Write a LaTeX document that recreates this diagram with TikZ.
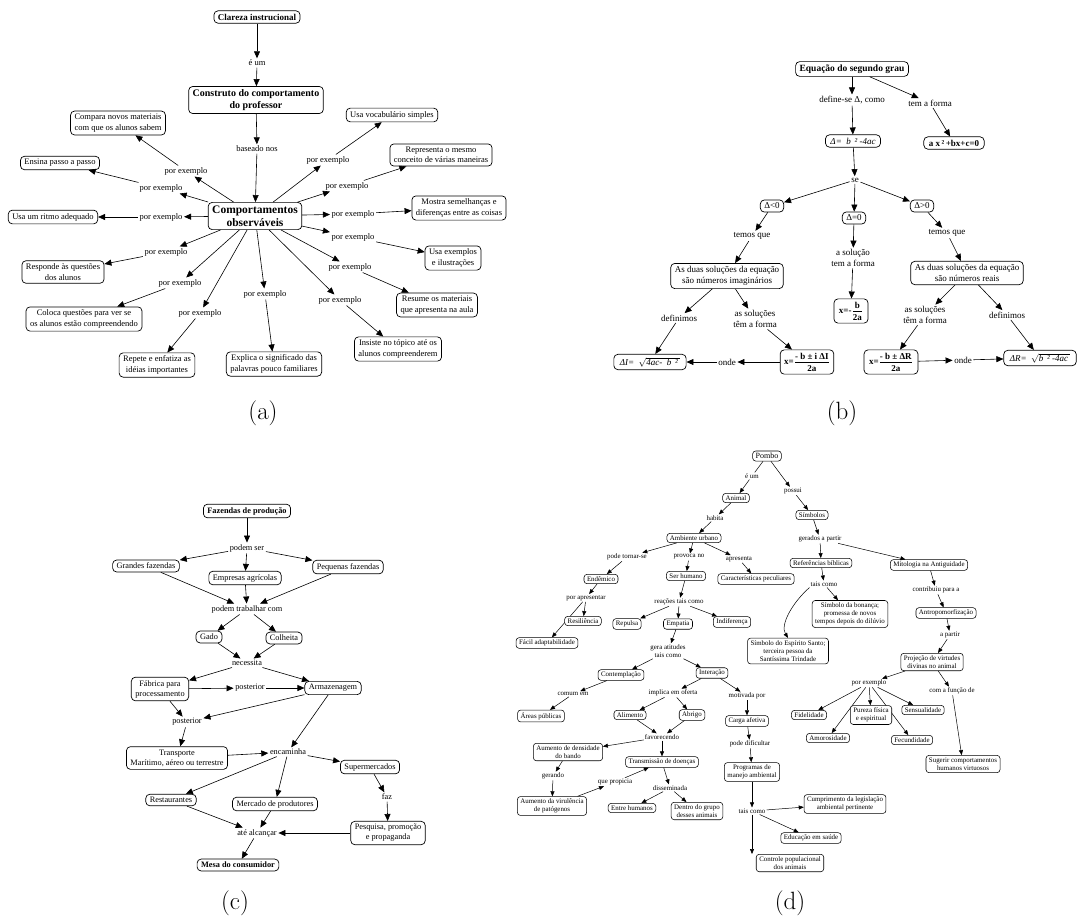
\documentclass[tikz,border=0pt]{standalone}
\usepackage{fontspec}
\usetikzlibrary{arrows.meta}
\newfontfamily\tnr{Liberation Serif}
\newcommand\fntA{\tnr\fontsize{8.5}{10.5}\selectfont}
\newcommand\fntB{\tnr\fontsize{9}{11}\selectfont}
\newcommand\fntC{\tnr\fontsize{8.3}{10}\selectfont}
\newcommand\fntD{\tnr\fontsize{6.9}{8.2}\selectfont}
\pgfdeclarelayer{bg}
\pgfsetlayers{bg,main}
\tikzset{
  bx/.style={draw, rounded corners=4pt, line width=0.7pt, fill=white, align=center, inner xsep=4pt, inner ysep=3pt},
  lb/.style={inner sep=1.5pt, align=center},
  ar/.style={-{Triangle[length=7pt,width=6pt]}, line width=0.6pt},
  ard/.style={-{Triangle[length=5pt,width=4pt]}, line width=0.5pt},
  ln/.style={line width=0.5pt},
  captxt/.style={font=\fontsize{25}{30}\selectfont},
}
\begin{document}
\begin{tikzpicture}[x=1pt,y=-1pt]
\useasboundingbox (0,0) rectangle (1084,922);

% ================= (a) =================
\begin{scope}[bx/.append style={font=\fntA}, lb/.append style={font=\fntA}]
\node[bx,font=\tnr\bfseries\fontsize{9}{11}\selectfont] (clareza) at (257,17) {Clareza instrucional};
\node[lb] (eum) at (257,63) {é um};
\node[bx,font=\tnr\bfseries\fontsize{10}{12}\selectfont] (construto) at (256,100) {Construto do comportamento\\do professor};
\node[lb] (baseado) at (257,149) {baseado nos};
\node[bx,font=\tnr\bfseries\fontsize{11.5}{13.5}\selectfont] (comp) at (255,216) {Comportamentos\\observáveis};

\node[bx] (compara) at (118,123) {Compara novos materiais\\com que os alunos sabem};
\node[bx] (ensina) at (60,163) {Ensina passo a passo};
\node[bx] (ritmo) at (53,217) {Usa um ritmo adequado};
\node[bx] (responde) at (63,272) {Responde às questões\\dos alunos};
\node[bx] (coloca) at (84,319) {Coloca questões para ver se\\os alunos estão compreendendo};
\node[bx] (repete) at (157,365) {Repete e enfatiza as\\idéias importantes};
\node[bx] (explica) at (274,364) {Explica o significado das\\palavras pouco familiares};
\node[bx] (insiste) at (398,349) {Insiste no tópico até os\\alunos compreenderem};
\node[bx] (resume) at (437,305) {Resume os materiais\\que apresenta na aula};
\node[bx] (exemplos) at (453,258) {Usa exemplos\\e ilustrações};
\node[bx] (mostra) at (459,208) {Mostra semelhanças e\\diferenças entre as coisas};
\node[bx] (representa) at (441,155) {Representa o mesmo\\conceito de várias maneiras};
\node[bx] (vocab) at (392,115) {Usa vocabulário simples};

\node[lb] (la1) at (186,171) {por exemplo};
\node[lb] (la2) at (161,188) {por exemplo};
\node[lb] (la3) at (161,217) {por exemplo};
\node[lb] (la4) at (166,252) {por exemplo};
\node[lb] (la5) at (180,283) {por exemplo};
\node[lb] (la6) at (200,313) {por exemplo};
\node[lb] (la7) at (265,294) {por exemplo};
\node[lb] (la8) at (340,300) {por exemplo};
\node[lb] (la9) at (350,267) {por exemplo};
\node[lb] (la10) at (353,237) {por exemplo};
\node[lb] (la11) at (353,214) {por exemplo};
\node[lb] (la12) at (347,186) {por exemplo};
\node[lb] (la13) at (328,160) {por exemplo};

\draw[ar] (clareza) -- (eum);
\draw[ar] (eum) -- (construto);
\draw[ar] (construto) -- (baseado);
\draw[ar] (baseado) -- (comp);
\foreach \l/\t in {la1/compara,la2/ensina,la3/ritmo,la4/responde,la5/coloca,la6/repete,la7/explica,la8/insiste,la9/resume,la10/exemplos,la11/mostra,la12/representa,la13/vocab}{
  \draw[ar] (comp) -- (\l);
  \draw[ar] (\l) -- (\t);
}
\end{scope}
\node[captxt] (capa) at (263,413) {(a)};

% ================= (b) =================
\begin{scope}[bx/.append style={font=\fntB}, lb/.append style={font=\fntB}]
\node[bx,font=\tnr\bfseries\fontsize{9.5}{11}\selectfont] (eq) at (852,69) {Equação do segundo grau};
\node[lb] (define) at (852,100) {define-se Δ, como};
\node[lb] (tem) at (930,103) {tem a forma};
\node[bx,font=\tnr\bfseries\fontsize{9}{11}\selectfont,inner xsep=5pt] (forma) at (954,143) {a x\,²\,+bx+c=0};
\node[bx,inner xsep=5pt] (delta) at (853,141) {\itshape Δ=\ \ b\ \,²\ -4ac};
\node[lb] (se) at (855,180) {se};
\node[bx] (dneg) at (772,206) {Δ<0};
\node[bx] (dzero) at (854,218) {Δ=0};
\node[bx] (dpos) at (922,206) {Δ>0};
\node[lb] (tq1) at (752,236) {temos que};
\node[lb] (tq2) at (947,233) {temos que};
\node[lb] (asol0) at (853,258) {a solução\\tem a forma};
\node[bx] (imag) at (727,276) {As duas soluções da equação\\são números imaginários};
\node[bx] (reais) at (967,273) {As duas soluções da equação\\são números reais};
\node[bx,inner xsep=5pt] (x0) at (851,311) {\bfseries x=-$\displaystyle\frac{\mbox{\bfseries b}}{\mbox{\bfseries 2a}}$};
\node[lb] (def1) at (679,318) {definimos};
\node[lb] (sol1) at (755,319) {as soluções\\têm a forma};
\node[lb] (sol2) at (925,315) {as soluções\\têm a forma};
\node[lb] (def2) at (1007,315) {definimos};
\node[bx,inner xsep=6pt] (dI) at (650,362) {\itshape ΔI=\ \ $\sqrt{\mbox{\itshape 4ac-\ \ b\ \,²\ }}$};
\node[bx] (xi) at (807,362) {\bfseries x=$\displaystyle\frac{\mbox{\bfseries - b ± i ΔI}}{\mbox{\bfseries 2a}}$};
\node[lb] (onde1) at (727,362) {onde};
\node[bx,inner xsep=5pt] (xr) at (891,362) {\bfseries x=$\displaystyle\frac{\mbox{\bfseries - b ± ΔR}}{\mbox{\bfseries 2a}}$};
\node[lb] (onde2) at (963,360) {onde};
\node[bx,inner xsep=6pt] (dR) at (1040,358) {\itshape ΔR=\ \ $\sqrt{\mbox{\itshape b\ \,²\ -4ac\ }}$};

\draw[ar] (eq) -- (define);
\draw[ar] (eq) -- (tem);
\draw[ar] (tem) -- (forma);
\draw[ar] (define) -- (delta);
\draw[ar] (delta) -- (se);
\draw[ar] (se) -- (dneg);
\draw[ar] (se) -- (dzero);
\draw[ar] (se) -- (dpos);
\draw[ar] (dneg) -- (tq1);
\draw[ar] (tq1) -- (imag);
\draw[ar] (dzero) -- (asol0);
\draw[ar] (asol0) -- (x0);
\draw[ar] (dpos) -- (tq2);
\draw[ar] (tq2) -- (reais);
\draw[ar] (imag) -- (def1);
\draw[ar] (imag) -- (sol1);
\draw[ar] (def1) -- (dI);
\draw[ar] (sol1) -- (xi);
\draw[ar] (xi) -- (onde1);
\draw[ar] (onde1) -- (dI);
\draw[ar] (reais) -- (sol2);
\draw[ar] (reais) -- (def2);
\draw[ar] (sol2) -- (xr);
\draw[ar] (def2) -- (dR);
\draw[ar] (xr) -- (onde2);
\draw[ar] (onde2) -- (dR);
\end{scope}
\node[captxt] (capb) at (842,413) {(b)};

% ================= (c) =================
\begin{scope}[bx/.append style={font=\fntC}, lb/.append style={font=\fntC}]
\node[bx,font=\tnr\bfseries\fontsize{8.3}{10}\selectfont] (fazendas) at (247,511) {Fazendas de produção};
\node[lb] (podemser) at (247,548) {podem ser};
\node[bx] (grandes) at (146,566) {Grandes fazendas};
\node[bx] (empresas) at (245,578) {Empresas agrícolas};
\node[bx] (pequenas) at (348,567) {Pequenas fazendas};
\node[lb] (trab) at (247,609) {podem trabalhar com};
\node[bx] (gado) at (209,637) {Gado};
\node[bx] (colheita) at (284,638) {Colheita};
\node[lb] (nec) at (247,663) {necessita};
\node[bx] (fabrica) at (160,689) {Fábrica para\\processamento};
\node[bx] (armaz) at (333,688) {Armazenagem};
\node[lb] (post1) at (250,688) {posterior};
\node[lb] (post2) at (187,722) {posterior};
\node[bx] (transp) at (177,758) {Transporte\\Marítimo, aéreo ou terrestre};
\node[lb] (enc) at (288,752) {encaminha};
\node[bx] (super) at (370,767) {Supermercados};
\node[bx] (rest) at (171,800) {Restaurantes};
\node[bx] (mercado) at (275,804) {Mercado de produtores};
\node[lb] (fazl) at (387,797) {faz};
\node[bx] (pesq) at (388,833) {Pesquisa, promoção\\e propaganda};
\node[lb] (ate) at (257,833) {até alcançar};
\node[bx,font=\tnr\bfseries\fontsize{8.3}{10}\selectfont] (mesa) at (238,865) {Mesa do consumidor};

\draw[ar] (fazendas) -- (podemser);
\draw[ar] (podemser) -- (grandes);
\draw[ar] (podemser) -- (empresas);
\draw[ar] (podemser) -- (pequenas);
\draw[ar] (grandes) -- (trab);
\draw[ar] (empresas) -- (trab);
\draw[ar] (pequenas) -- (trab);
\draw[ar] (trab) -- (gado);
\draw[ar] (trab) -- (colheita);
\draw[ar] (gado) -- (nec);
\draw[ar] (colheita) -- (nec);
\draw[ar] (nec) -- (fabrica);
\draw[ar] (nec) -- (armaz);
\draw[ar] (fabrica) -- (post1);
\draw[ar] (post1) -- (armaz);
\draw[ar] (fabrica) -- (post2);
\draw[ar] (armaz) -- (post2);
\draw[ar] (post2) -- (transp);
\draw[ar] (transp) -- (enc);
\draw[ar] (armaz) -- (enc);
\draw[ar] (enc) -- (super);
\draw[ar] (enc) -- (rest);
\draw[ar] (enc) -- (mercado);
\draw[ar] (super) -- (fazl);
\draw[ar] (fazl) -- (pesq);
\draw[ar] (rest) -- (ate);
\draw[ar] (mercado) -- (ate);
\draw[ar] (pesq) -- (ate);
\draw[ar] (ate) -- (mesa);
\end{scope}
\node[captxt] (capc) at (235,903) {(c)};

% ================= (d) =================
\begin{scope}[bx/.append style={font=\fntD, rounded corners=3pt, line width=0.55pt, inner xsep=3pt, inner ysep=2.2pt}, lb/.append style={font=\fntD, inner sep=1pt}]
\node[bx,font=\tnr\fontsize{8}{9.5}\selectfont] (pombo) at (767,456) {Pombo};
\node[lb] (deum) at (752,476) {é um};
\node[bx] (animal) at (736,498) {Animal};
\node[lb] (habita) at (715,518) {habita};
\node[bx] (ambiente) at (694,538) {Ambiente urbano};
\node[lb] (podet) at (627,557) {pode tornar-se};
\node[lb] (provoca) at (689,557) {provoca no};
\node[lb] (apres) at (739,559) {apresenta};
\node[bx] (endem) at (601,579) {Endêmico};
\node[bx] (serh) at (686,576) {Ser humano};
\node[bx] (caract) at (756,579) {Características peculiares};
\node[lb] (porap) at (586,598) {por apresentar};
\node[bx] (resil) at (583,621) {Resiliência};
\node[bx] (facil) at (547,643) {Fácil adaptabilidade};
\node[lb] (reacoes) at (679,602) {reações tais como};
\node[bx] (repulsa) at (627,624) {Repulsa};
\node[bx] (empatia) at (678,624) {Empatia};
\node[bx] (indif) at (732,622) {Indiferença};
\node[lb] (gera) at (668,651) {gera atitudes\\tais como};
\node[bx] (contemp) at (621,675) {Contemplação};
\node[bx] (inter) at (712,673) {Interação};
\node[lb] (comum) at (573,694) {comum em};
\node[bx] (areas) at (541,716) {Áreas públicas};
\node[lb] (implica) at (673,693) {implica em oferta};
\node[bx] (alim) at (630,715) {Alimento};
\node[bx] (abrigo) at (692,715) {Abrigo};
\node[lb] (motiv) at (747,696) {motivada por};
\node[bx] (carga) at (747,721) {Carga afetiva};
\node[lb] (favor) at (662,737) {favorecendo};
\node[bx] (aumento) at (568,752) {Aumento de densidade\\do bando};
\node[bx] (transm) at (662,762) {Transmissão de doenças};
\node[lb] (gerando) at (553,776) {gerando};
\node[bx] (viru) at (552,806) {Aumento da virulência\\de patógenos};
\node[lb] (propicia) at (615,782) {que propicia};
\node[lb] (dissem) at (670,788) {disseminada};
\node[bx] (entre) at (632,808) {Entre humanos};
\node[bx] (dentro) at (697,811) {Dentro do grupo\\desses animais};
\node[lb] (podedif) at (750,744) {pode dificultar};
\node[bx] (prog) at (752,772) {Programas de\\manejo ambiental};
\node[lb] (taisc2) at (752,811) {tais como};
\node[bx] (cumpr) at (845,804) {Cumprimento da legislação\\ambiental pertinente};
\node[bx] (educ) at (811,838) {Educação em saúde};
\node[bx] (contr) at (790,863) {Controle populacional\\dos animais};
\node[lb] (possui) at (793,491) {possui};
\node[bx] (simb) at (812,515) {Símbolos};
\node[lb] (gerados) at (820,539) {gerados a partir};
\node[bx] (refer) at (821,563) {Referências bíblicas};
\node[bx] (mito) at (929,565) {Mitologia na Antiguidade};
\node[lb] (taisc1) at (824,584) {tais como};
\node[bx] (bonanca) at (850,614) {Símbolo da bonança;\\promessa de novos\\tempos depois do dilúvio};
\node[bx] (espirito) at (788,651) {Símbolo do Espírito Santo;\\terceira pessoa da\\Santíssima Trindade};
\node[lb] (contrib) at (936,590) {contribuiu para a};
\node[bx] (antro) at (946,613) {Antropomorfização};
\node[lb] (apartir) at (950,635) {a partir};
\node[bx] (proj) at (932,662) {Projeção de virtudes\\divinas no animal};
\node[lb] (porex) at (869,683) {por exemplo};
\node[lb] (funcao) at (952,691) {com a função de};
\node[bx] (sugerir) at (963,764) {Sugerir comportamentos\\humanos virtuosos};
\node[bx] (fidel) at (809,715) {Fidelidade};
\node[bx] (pureza) at (871,715) {Pureza física\\e espiritual};
\node[bx] (sensual) at (923,710) {Sensualidade};
\node[bx] (amoros) at (828,738) {Amorosidade};
\node[bx] (fecund) at (912,740) {Fecundidade};

\begin{pgfonlayer}{bg}
\draw[ard] (porap) -- (facil);
\draw[ard] (porex) -- (amoros);
\draw[ard] (porex) -- (fecund);
\end{pgfonlayer}

\draw[ln] (pombo) -- (deum);
\draw[ard] (deum) -- (animal);
\draw[ard] (animal) -- (habita);
\draw[ard] (habita) -- (ambiente);
\draw[ard] (pombo) -- (possui);
\draw[ard] (possui) -- (simb);
\draw[ard] (simb) -- (gerados);
\draw[ard] (gerados) -- (refer);
\draw[ard] (gerados) -- (mito);
\draw[ard] (refer) -- (taisc1);
\draw[ard] (taisc1) -- (bonanca);
\draw[ard] (taisc1.south west) .. controls (792,603) and (780,625) .. (espirito.north);
\draw[ard] (mito) -- (contrib);
\draw[ard] (contrib) -- (antro);
\draw[ard] (antro) -- (apartir);
\draw[ard] (apartir) -- (proj);
\draw[ard] (proj) -- (porex);
\draw[ard] (proj) -- (funcao);
\draw[ard] (funcao) -- (sugerir);
\draw[ard] (porex) -- (fidel);
\draw[ard] (porex) -- (pureza);
\draw[ard] (porex) -- (sensual);
\draw[ard] (ambiente) -- (podet);
\draw[ard] (podet) -- (endem);
\draw[ard] (ambiente) -- (provoca);
\draw[ard] (provoca) -- (serh);
\draw[ard] (ambiente) -- (apres);
\draw[ard] (apres) -- (caract);
\draw[ard] (endem) -- (porap);
\draw[ard] (porap) -- (resil);
\draw[ard] (serh) -- (reacoes);
\draw[ard] (reacoes) -- (repulsa);
\draw[ard] (reacoes) -- (empatia);
\draw[ard] (reacoes) -- (indif);
\draw[ard] (empatia) -- (gera);
\draw[ard] (gera) -- (contemp);
\draw[ard] (gera) -- (inter);
\draw[ard] (contemp) -- (comum);
\draw[ard] (comum) -- (areas);
\draw[ard] (inter) -- (implica);
\draw[ard] (implica) -- (alim);
\draw[ard] (implica) -- (abrigo);
\draw[ard] (inter) -- (motiv);
\draw[ard] (motiv) -- (carga);
\draw[ard] (alim) -- (favor);
\draw[ard] (abrigo) -- (favor);
\draw[ard] (favor) -- (aumento);
\draw[ard] (favor) -- (transm);
\draw[ard] (aumento) -- (gerando);
\draw[ard] (gerando) -- (viru);
\draw[ard] (viru) -- (propicia);
\draw[ard] (propicia) -- (transm);
\draw[ard] (transm) -- (dissem);
\draw[ard] (dissem) -- (entre);
\draw[ard] (dissem) -- (dentro);
\draw[ard] (carga) -- (podedif);
\draw[ard] (podedif) -- (prog);
\draw[ard] (prog) -- (taisc2);
\draw[ard] (taisc2) -- (cumpr);
\draw[ard] (taisc2) -- (educ);
\draw[ard] (taisc2) -- (taisc2 |- contr.north);
\end{scope}
\node[captxt] (capd) at (790,903) {(d)};
\end{tikzpicture}
\end{document}
